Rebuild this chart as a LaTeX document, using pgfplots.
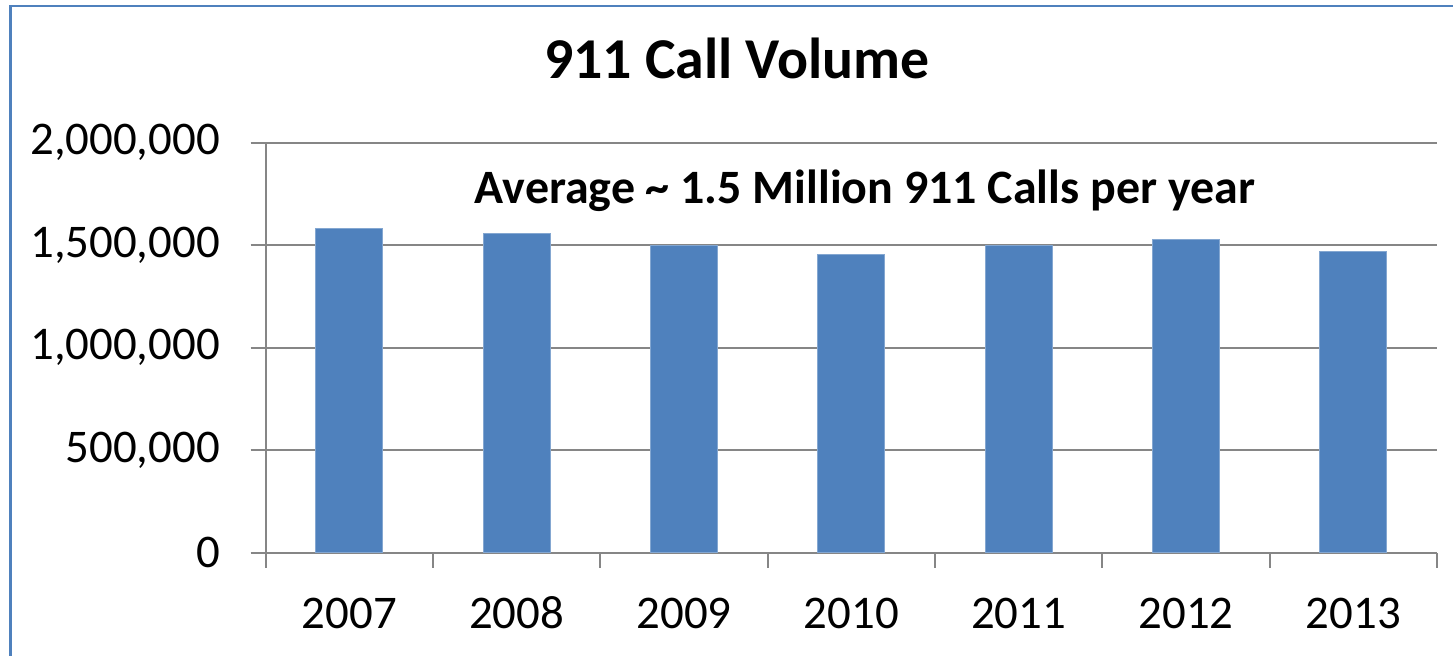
\documentclass[border=0pt]{standalone}
\usepackage{pgfplots}
\pgfplotsset{compat=1.18}
\usepackage{fontspec}
\setmainfont{Carlito}
\definecolor{barblue}{RGB}{79,129,189}
\definecolor{gridgray}{RGB}{134,134,134}
\begin{document}
\begin{tikzpicture}[x=1bp,y=1bp]
\useasboundingbox (0,0) rectangle (1453,656);
\fill[white] (0,0) rectangle (1453,656);
\draw[barblue, line width=2.5bp] (10.3,650.2) rectangle (1520,-60);
\begin{axis}[
  at={(265.7bp,103.3bp)}, anchor=south west,
  scale only axis, width=1171.3bp, height=410bp,
  xmin=-0.5, xmax=6.5, ymin=0, ymax=2000000,
  axis x line*=bottom, axis y line*=left,
  axis line style={gridgray, line width=1.8bp},
  xtick={-0.5,0.5,...,6.5},
  xticklabels={2007,2008,2009,2010,2011,2012,2013,{}},
  ytick={0,500000,1000000,1500000,2000000},
  scaled y ticks=false,
  yticklabel={\pgfmathprintnumber[fixed,precision=0,1000 sep={,},assume math mode=true]{\tick}},
  tick align=outside,
  major tick length=15bp,
  tick style={gridgray, line width=1.8bp},
  ymajorgrids,
  grid style={gridgray, line width=1.8bp},
  xticklabel style={anchor=base, inner sep=0pt, xshift=83.65bp, yshift=-60.3bp, font=\fontsize{47}{56}\selectfont},
  yticklabel style={anchor=east, inner sep=0pt, xshift=-30.7bp, font=\fontsize{47}{56}\selectfont},
  ybar, bar width=67bp,
  clip=false,
]
\addplot[fill=barblue, draw=barblue!70!white, line width=1bp] coordinates {
  (0,1582000) (1,1555000) (2,1500000) (3,1456000) (4,1500000) (5,1529000) (6,1467000)
};
\end{axis}
\node[anchor=base, inner sep=0pt, font=\bfseries\fontsize{58}{68}\selectfont] at (737,577) {911 Call Volume};
\node[anchor=base, inner sep=0pt, font=\bfseries\fontsize{48.1}{56}\selectfont] at (865,452) {Average \textasciitilde{} 1.5 Million 911 Calls per year};
\end{tikzpicture}
\end{document}
